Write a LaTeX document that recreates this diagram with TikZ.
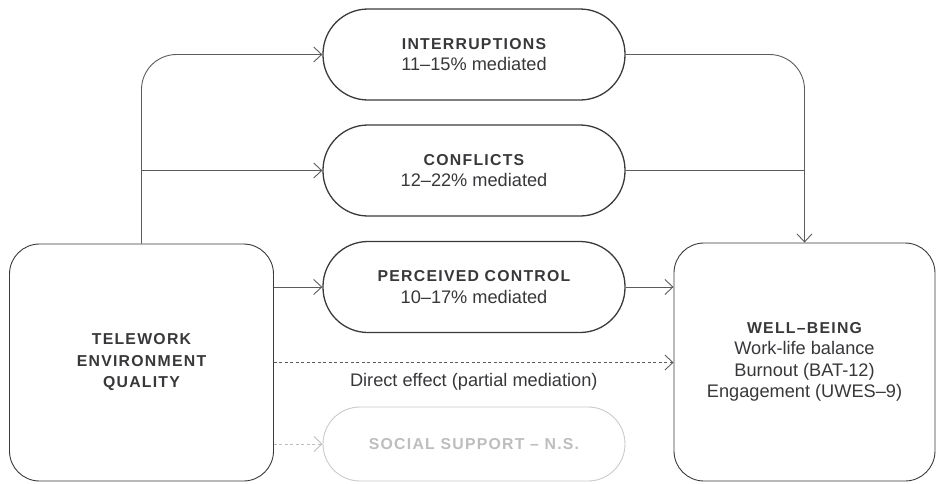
\documentclass[tikz,border=0pt]{standalone}
\usepackage{fontspec}
\setmainfont{Liberation Sans}
\newfontfamily\hdfont[LetterSpace=8]{Liberation Sans}
\usetikzlibrary{arrows.meta}

\definecolor{ink}{HTML}{38383B}
\definecolor{edge}{HTML}{3A3A3A}
\definecolor{wire}{HTML}{5C5C5C}
\definecolor{faint}{HTML}{BDBDBD}
\definecolor{faintedge}{HTML}{CACACA}

\newcommand{\hd}{\fontsize{15.8}{21.5}\selectfont\hdfont\bfseries}
\newcommand{\rg}{\fontsize{18.2}{21.5}\selectfont}

\tikzset{
  tip/.tip={Straight Barb[length=8pt,width=15pt]},
  bigbox/.style={draw=edge, line width=0.9pt, rounded corners=30pt,
    minimum width=264pt, minimum height=237pt, inner sep=0pt,
    align=center, text=ink, font=\rg},
  pill/.style={draw=edge, line width=1.3pt, rounded corners=45pt,
    minimum width=302pt, minimum height=91pt, inner sep=0pt,
    align=center, text=ink, font=\rg},
  ghostpill/.style={pill, draw=faintedge, line width=0.9pt, text=faint,
    minimum height=74pt, rounded corners=37pt},
  conn/.style={draw=wire, line width=0.9pt},
  arrow/.style={conn, -tip},
  dashedarrow/.style={arrow, dash pattern=on 3pt off 2.5pt},
  ghostarrow/.style={dashedarrow, draw=faint},
}

\begin{document}
\begin{tikzpicture}[x=1pt, y=-1pt]
\useasboundingbox (0,0) rectangle (937,483);

% outer boxes
\node[bigbox] (env) at (141.5,362.5) {\hd TELEWORK\\\hd ENVIRONMENT\\\hd QUALITY};
\node[bigbox, minimum width=261pt, minimum height=238pt] (wb) at (804.5,362)
  {\hd WELL–BEING\\Work-life balance\\Burnout (BAT-12)\\Engagement (UWES–9)};

% mediators
\node[pill] (int) at (474,54.5) {\hd INTERRUPTIONS\\11–15\% mediated};
\node[pill] (con) at (474,170.5) {\hd CONFLICTS\\12–22\% mediated};
\node[pill] (pc)  at (474,287) {\hd PERCEIVED CONTROL\\10–17\% mediated};
\node[ghostpill] (ss) at (474,444) {\hd SOCIAL SUPPORT – N.S.};

% paths into the mediators
\draw[arrow, rounded corners=35pt] (env.north) -- (env.north |- int.west) -- (int.west);
\draw[arrow] (env.north |- con.west) -- (con.west);
\draw[arrow] (env.east |- pc.west) -- (pc.west);
\draw[ghostarrow] (env.east |- ss.west) -- (ss.west);

% paths into well-being
\draw[arrow, rounded corners=35pt] (int.east) -- (int.east -| wb.north) -- (wb.north);
\draw[conn] (con.east) -- (con.east -| wb.north);
\draw[arrow] (pc.east) -- (pc.east -| wb.west);

% direct effect
\draw[dashedarrow] (env.east) -- (env.east -| wb.west)
  node[midway, yshift=-19.5pt, text=ink, font=\rg] (lbl) {Direct effect (partial mediation)};
\end{tikzpicture}
\end{document}
